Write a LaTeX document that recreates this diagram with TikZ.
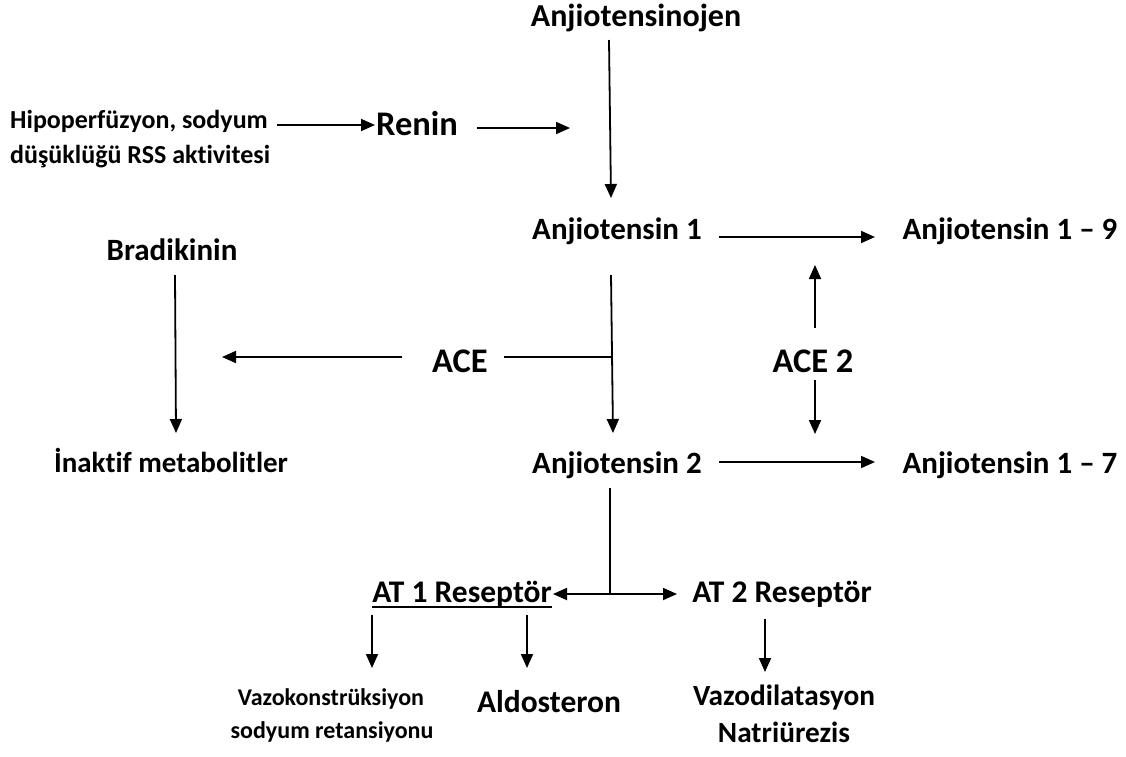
\documentclass[tikz,border=0pt]{standalone}
\usepackage{fontspec}
\setmainfont{Carlito}[Ligatures={NoCommon}]
\usetikzlibrary{arrows.meta}
\begin{document}
\begin{tikzpicture}[x=1pt,y=-1pt,
  txt/.style={inner sep=0pt, anchor=base, font=\bfseries\fontsize{#1}{#1}\selectfont},
  txt/.default=31,
  ln/.style={line width=1.8pt},
  arr/.style={line width=1.8pt, -{Triangle[length=14pt,width=12pt]}},
  darr/.style={line width=1.8pt, {Triangle[length=14pt,width=12pt]}-{Triangle[length=14pt,width=12pt]}}]
\useasboundingbox (0,0) rectangle (1126,756);
% texts
\node[txt=32] (ajen) at (636,26) {Anjiotensinojen};
\node[txt=26, anchor=base west] (hipo1) at (10,128) {Hipoperfüzyon, sodyum};
\node[txt=26, anchor=base west] (hipo2) at (10,163) {düşüklüğü RSS aktivitesi};
\node[txt=34.5] (renin) at (417,135) {Renin};
\node[txt] (a1) at (617,239) {Anjiotensin 1};
\node[txt] (a19) at (1010,239) {Anjiotensin 1 – 9};
\node[txt=31] (brad) at (172,260) {Bradikinin};
\node[txt=34.5] (ace) at (460,372) {ACE};
\node[txt=34.5] (ace2) at (813,372) {ACE 2};
\node[txt=29] (inak) at (171,472) {İnaktif metabolitler};
\node[txt] (a2) at (617,473) {Anjiotensin 2};
\node[txt] (a17) at (1010,473) {Anjiotensin 1 – 7};
\node[txt=31.5] (at1) at (462,602) {AT 1 Reseptör};
\node[txt=31.5] (at2) at (782,602) {AT 2 Reseptör};
\node[txt=24] (vk1) at (331,705) {Vazokonstrüksiyon};
\node[txt=24] (vk2) at (332,738) {sodyum retansiyonu};
\node[txt=31.5] (aldo) at (549,712) {Aldosteron};
\node[txt=29.3] (vd1) at (784,705) {Vazodilatasyon};
\node[txt=29.3] (vd2) at (784,742) {Natriürezis};
% underline
\draw[line width=1.8pt] ([yshift=-5pt]at1.base west) coordinate (ulA) -- ([yshift=-5pt]at1.base east) coordinate (ulB);
% coordinates
\coordinate (p1) at (277,125); \coordinate (p2) at (375,125);
\coordinate (p3) at (477,128); \coordinate (p4) at (570,128);
\coordinate (p5) at (609,40); \coordinate (p6) at (611,198);
\coordinate (p7) at (719,237); \coordinate (p8) at (875,237);
\coordinate (p9) at (175,275); \coordinate (p10) at (176,433);
\coordinate (p11) at (402,357); \coordinate (p12) at (222,357);
\coordinate (p13) at (504,357); \coordinate (p14) at (612,357);
\coordinate (p15) at (611,275); \coordinate (p16) at (613,433);
\coordinate (p17) at (815,328); \coordinate (p18) at (815,265);
\coordinate (p19) at (815,380); \coordinate (p20) at (815,434);
\coordinate (p21) at (719,462); \coordinate (p22) at (875,462);
\coordinate (p23) at (610,488); \coordinate (p24) at (610,594);
\coordinate (p25) at (553,594); \coordinate (p26) at (677,594);
\coordinate (p27) at (372,615); \coordinate (p28) at (372,668);
\coordinate (p29) at (527,615); \coordinate (p30) at (527,668);
\coordinate (p31) at (765,619); \coordinate (p32) at (765,672);
% connectors
\draw[arr] (p1) -- (p2);
\draw[arr] (p3) -- (p4);
\draw[arr] (p5) -- (p6);
\draw[arr] (p7) -- (p8);
\draw[arr] (p9) -- (p10);
\draw[arr] (p11) -- (p12);
\draw[ln] (p13) -- (p14);
\draw[arr] (p15) -- (p16);
\draw[arr] (p17) -- (p18);
\draw[arr] (p19) -- (p20);
\draw[arr] (p21) -- (p22);
\draw[ln] (p23) -- (p24);
\draw[darr] (p25) -- (p26);
\draw[arr] (p27) -- (p28);
\draw[arr] (p29) -- (p30);
\draw[arr] (p31) -- (p32);
\end{tikzpicture}
\end{document}
